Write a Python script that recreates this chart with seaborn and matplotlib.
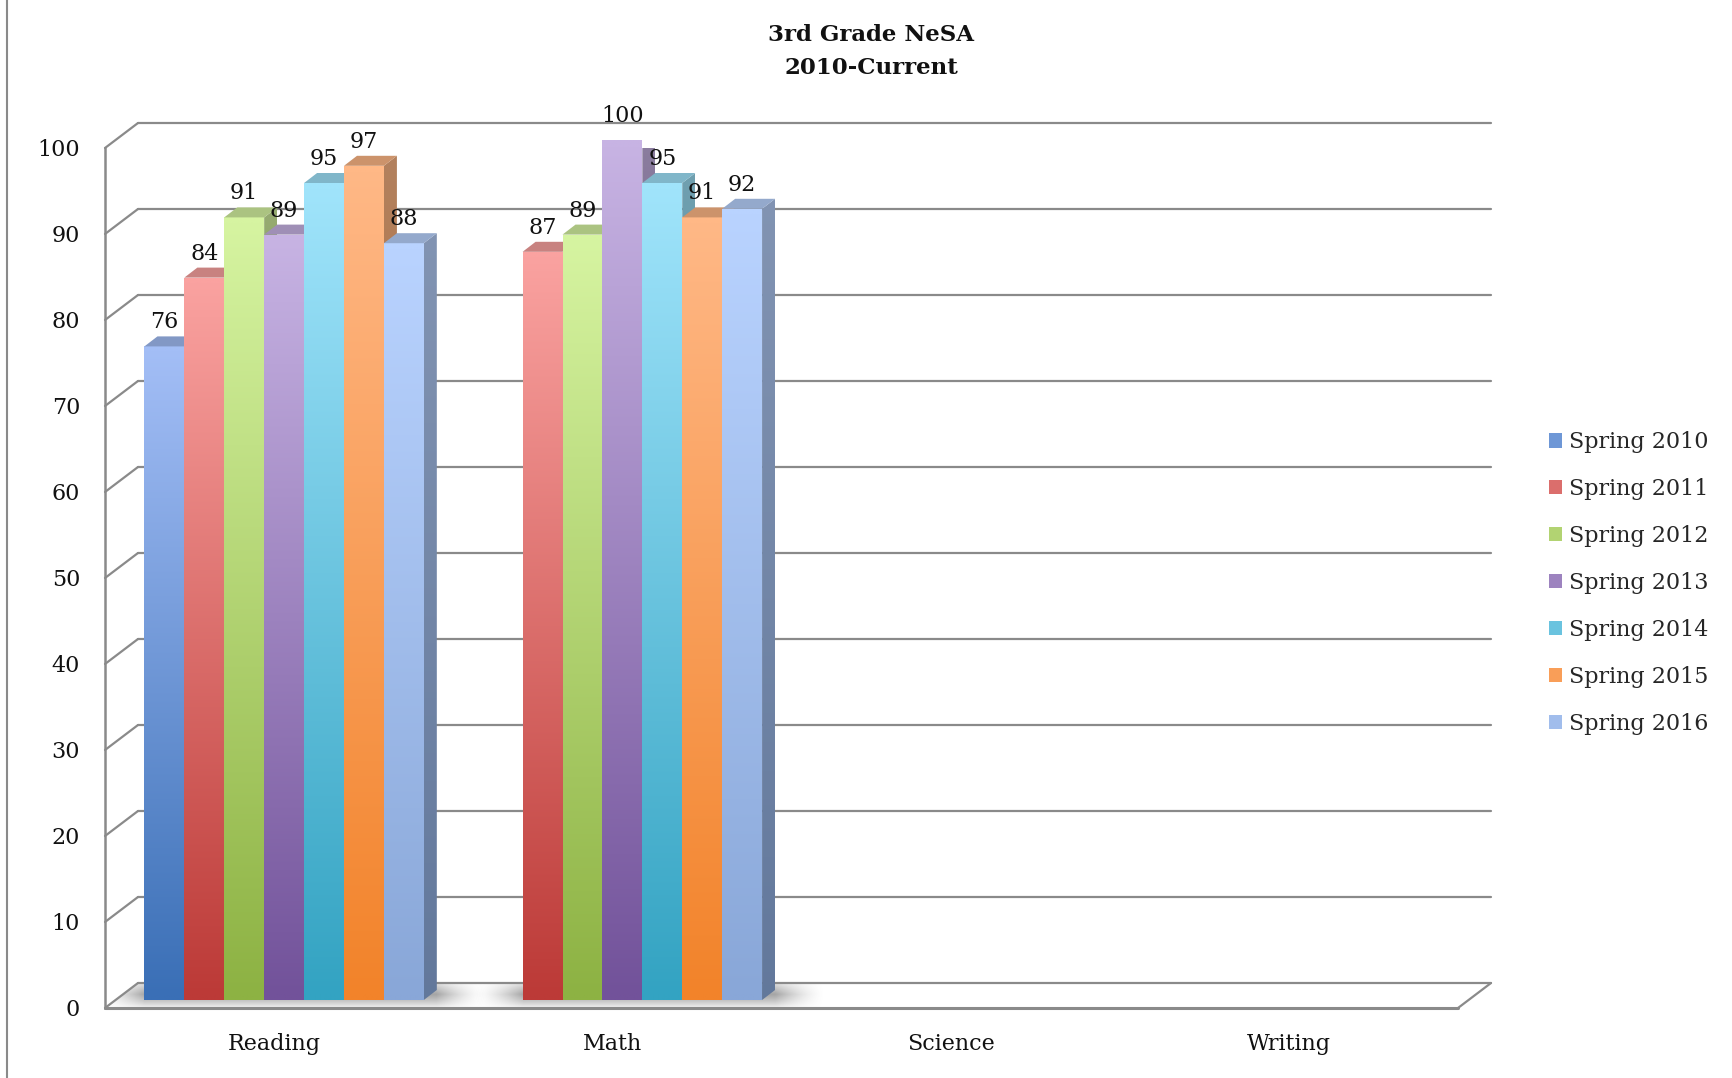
import numpy as np
import pandas as pd
import matplotlib.pyplot as plt
import seaborn as sns
from matplotlib.patches import Polygon, Patch, Rectangle
from matplotlib.colors import to_rgb
from matplotlib.lines import Line2D

# ---- data ----
subjects = ["Reading", "Math", "Science", "Writing"]
years = ["Spring 2010", "Spring 2011", "Spring 2012", "Spring 2013",
         "Spring 2014", "Spring 2015", "Spring 2016"]
reading = [76, 84, 91, 89, 95, 97, 88]
math = [None, 87, 89, 100, 95, 91, 92]
y_ticks = [0, 10, 20, 30, 40, 50, 60, 70, 80, 90, 100]

# bottom (dark) / top (light) shades of each series
dark = ["#3A6FB6", "#BC3A37", "#8DB243", "#72529A", "#33A3C2", "#F2832A", "#89A7D8"]
light = ["#A3BEF6", "#FAA2A0", "#D6F4A1", "#C7B3E3", "#A0E4FB", "#FFB886", "#B9D3FF"]

rows = []
for subj, vals in [("Reading", reading), ("Math", math)]:
    for yr, v in zip(years, vals):
        if v is not None:
            rows.append({"subject": subj, "year": yr, "score": v})
df = pd.DataFrame(rows)

sns.set_theme(style="white")
plt.rcParams["font.family"] = ["DejaVu Serif"]

W, H = 1732, 1078
fig = plt.figure(figsize=(W / 100, H / 100), dpi=100)
fig.patch.set_facecolor("white")

# front plane of the 3D box, in pixels
x_left, x_right, y_top, y_bot = 105, 1458, 148, 1008
ax = fig.add_axes([x_left / W, (H - y_bot) / H, (x_right - x_left) / W, (y_bot - y_top) / H])

mid = [tuple(0.5 * np.array(to_rgb(d)) + 0.5 * np.array(to_rgb(l))) for d, l in zip(dark, light)]
palette = dict(zip(years, mid))

sns.barplot(data=df, x="subject", y="score", hue="year", order=subjects,
            hue_order=years, palette=palette, width=0.826, errorbar=None,
            ax=ax, legend=False, saturation=1)
bar_patches = [p for p in ax.patches if isinstance(p, Rectangle) and p.get_height() > 0]

ax.set_xlim(-0.5, 3.5)
ax.set_ylim(0, 100)
ax.set_autoscale_on(False)

sx = (x_right - x_left) / 4.0   # px per x unit
sy = (y_bot - y_top) / 100.0    # px per y unit
box_dx, box_dy = 33 / sx, 25 / sy       # depth of the whole chart box
bar_ox, bar_oy = 10 / sx, 8 / sy        # bars sit a little behind the front plane
dep_dx, dep_dy = 13 / sx, 10 / sy       # depth of a single bar

GRID = "#8A8A8A"
x0, x1 = -0.5, 3.5

# back wall grid lines + left wall diagonals
for t in y_ticks:
    ax.plot([x0 + box_dx, x1 + box_dx], [t + box_dy, t + box_dy], color=GRID,
            lw=1.6, clip_on=False, zorder=1)
    ax.plot([x0, x0 + box_dx], [t, t + box_dy], color=GRID, lw=1.6,
            clip_on=False, zorder=1)
# floor
floor = Polygon([(x0, 0), (x1, 0), (x1 + box_dx, box_dy), (x0 + box_dx, box_dy)],
                closed=True, facecolor="white", edgecolor="none", zorder=0.5,
                clip_on=False)
ax.add_patch(floor)
ax.plot([x0, x1], [0, 0], color=GRID, lw=2.2, clip_on=False, zorder=2)
ax.plot([x1, x1 + box_dx], [0, box_dy], color=GRID, lw=1.6, clip_on=False, zorder=2)


def darken(c, f):
    return tuple(np.clip(np.array(to_rgb(c)) * f, 0, 1))


def grad_fill(clip, bbox, c_bot, c_top, z):
    t = np.linspace(0, 1, 64)[:, None]
    img = (1 - t) * np.array(to_rgb(c_bot)) + t * np.array(to_rgb(c_top))
    im = ax.imshow(img[:, None, :], extent=bbox, origin="lower", aspect="auto",
                   zorder=z, interpolation="bilinear")
    im.set_clip_path(clip)


# soft floor shadow under each group of bars
groups = {}
for p in bar_patches:
    c = int(round(p.get_x() + p.get_width() / 2))
    lo, hi = groups.get(c, (9, -9))
    groups[c] = (min(lo, p.get_x()), max(hi, p.get_x() + p.get_width()))
for c, (lo, hi) in groups.items():
    gl = lo + bar_ox
    gr = hi + bar_ox + dep_dx
    fade = 50 / sx
    xs = np.linspace(gl - fade, gr + fade, 300)
    ax_prof = np.clip(np.minimum((xs - (gl - fade)) / fade, (gr + fade - xs) / fade), 0, 1) ** 1.6
    ys = np.linspace(0, box_dy, 40)
    ay_prof = np.clip(1 - np.abs(ys - 0.55 * box_dy) / (0.6 * box_dy), 0, 1) ** 0.8
    alpha = 0.55 * ay_prof[:, None] * ax_prof[None, :]
    img = np.zeros((len(ys), len(xs), 4))
    img[..., :3] = 0.35
    img[..., 3] = alpha
    im = ax.imshow(img, extent=[xs[0], xs[-1], 0, box_dy], origin="lower", aspect="auto",
                   zorder=0.8, interpolation="bilinear", clip_on=True)
    im.set_clip_path(floor)

mid_arr = np.array(mid)
bars = sorted(bar_patches, key=lambda p: p.get_x())
for k, p in enumerate(bars):
    fc = np.array(p.get_facecolor()[:3])
    i = int(np.argmin(((mid_arr - fc) ** 2).sum(axis=1)))
    bx, bw, bh = p.get_x() + bar_ox, p.get_width(), p.get_height()
    by = bar_oy
    z = 3 + k * 0.1
    # front face
    p.set_x(bx)
    p.set_y(by)
    p.set_facecolor("none")
    p.set_edgecolor("none")
    p.set_zorder(z)
    grad_fill(p, [bx, bx + bw, by, by + bh], dark[i], light[i], z)
    # side face
    side = Polygon([(bx + bw, by), (bx + bw + dep_dx, by + dep_dy),
                    (bx + bw + dep_dx, by + bh + dep_dy), (bx + bw, by + bh)],
                   closed=True, facecolor="none", edgecolor="none", zorder=z)
    ax.add_patch(side)
    grad_fill(side, [bx + bw, bx + bw + dep_dx, by, by + bh + dep_dy],
              darken(dark[i], 0.72), darken(light[i], 0.7), z)
    # top face
    ax.add_patch(Polygon([(bx, by + bh), (bx + bw, by + bh),
                          (bx + bw + dep_dx, by + bh + dep_dy), (bx + dep_dx, by + bh + dep_dy)],
                         closed=True, facecolor=darken(light[i], 0.8), edgecolor="none",
                         zorder=z + 0.01))
    ax.text(bx + bw / 2, by + bh + dep_dy + 8 / sy, f"{bh:.0f}", ha="center",
            va="baseline", fontsize=16, color="#111111", zorder=10)

# axes styling
for s in ["top", "right", "bottom"]:
    ax.spines[s].set_visible(False)
ax.spines["left"].set_color(GRID)
ax.spines["left"].set_linewidth(1.8)
ax.set_yticks(y_ticks)
ax.set_yticklabels([str(t) for t in y_ticks])
ax.tick_params(axis="y", length=0, pad=18, labelsize=16, labelcolor="#111111")
ax.tick_params(axis="x", length=0, pad=18, labelsize=16, labelcolor="#111111")
ax.set_xlabel("")
ax.set_ylabel("")
ax.patch.set_alpha(0)

# title
fig.text(871 / W, 1 - 24 / H, "3rd Grade NeSA\n2010-Current", ha="center", va="top",
         fontsize=16.5, fontweight="bold", color="#111111", linespacing=1.62)

# legend
handles = [Patch(facecolor=c, edgecolor="none") for c in mid]
fig.legend(handles, years, loc="center left", bbox_to_anchor=(1538 / W, 1 - 583 / H),
           frameon=False, fontsize=16, handlelength=0.6, handleheight=0.6,
           handletextpad=0.3, labelspacing=1.12, borderpad=0)

# chart-area frame on the left
fig.add_artist(Line2D([7 / W, 7 / W], [0, 1], color="#8A8A8A", lw=1.5))

fig.savefig("out.png", dpi=100, facecolor="white")
